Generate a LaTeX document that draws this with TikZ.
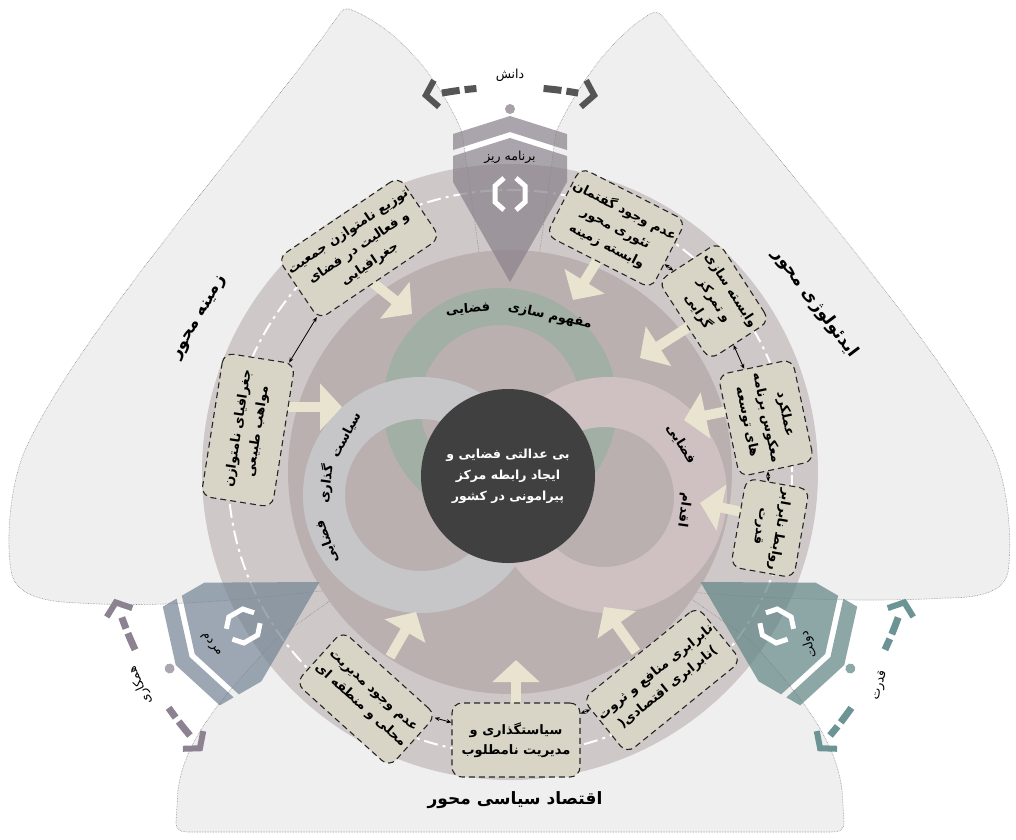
\documentclass[tikz,border=0pt]{standalone}
\usepackage{fontspec}
\newfontfamily\arabicfont[Script=Arabic]{DejaVu Sans}
\TeXXeTstate=1
\usetikzlibrary{arrows.meta}
\newcommand\fa[1]{\beginR #1\endR}

\definecolor{petalc}{RGB}{239,239,239}
\definecolor{ringc}{RGB}{207,200,200}
\definecolor{diskc}{RGB}{186,176,176}
\definecolor{greenc}{RGB}{161,175,165}
\definecolor{grayc}{RGB}{198,198,201}
\definecolor{pinkc}{RGB}{207,193,193}
\definecolor{corec}{RGB}{64,64,64}
\definecolor{boxc}{RGB}{216,213,198}
\definecolor{arrowc}{RGB}{232,228,207}
\definecolor{ptop}{RGB}{138,130,140}
\definecolor{pleft}{RGB}{118,134,150}
\definecolor{pright}{RGB}{98,134,134}
\definecolor{dtop}{RGB}{168,162,168}
\definecolor{dleft}{RGB}{170,166,178}
\definecolor{dright}{RGB}{140,168,168}
\definecolor{btop}{RGB}{85,85,85}
\definecolor{bleft}{RGB}{140,130,145}
\definecolor{bright}{RGB}{108,148,148}

\newcommand\pathTL{(510,472) -- (462,132) .. controls (440,80) and (400,30) .. (352,10) .. controls (346,7) and (341,10) .. (338,16) .. controls (250,140) and (80,330) .. (25,450) .. controls (8,490) and (6,550) .. (12,575) .. controls (18,596) and (45,602) .. (80,603) .. controls (160,608) and (240,600) .. (330,590) -- cycle}
\newcommand\pathTR{(510,472) -- (556,132) .. controls (580,80) and (615,35) .. (650,14) .. controls (655,11) and (660,12) .. (664,18) .. controls (760,140) and (930,330) .. (990,445) .. controls (1010,485) and (1012,545) .. (1008,572) .. controls (1004,592) and (980,598) .. (945,598) .. controls (880,602) and (780,600) .. (690,592) -- cycle}
\newcommand\pathBT{(510,472) -- (275,640) .. controls (230,690) and (185,735) .. (178,790) -- (176,822) .. controls (176,830) and (180,832) .. (190,832) -- (830,832) .. controls (840,832) and (844,830) .. (844,822) -- (842,790) .. controls (835,735) and (795,690) .. (750,640) -- cycle}

\begin{document}
\begin{tikzpicture}[x=1pt, y=-1pt,
    petal/.style={fill=petalc},
    petaledge/.style={draw=black!45, densely dotted, line width=0.6pt},
    sector/.style={draw=black!30, densely dotted, line width=0.5pt},
    causebox/.style={draw=black!85, dash pattern=on 6pt off 4pt, line width=1.1pt, rounded corners=10pt, fill=boxc, align=center, inner sep=2pt, font=\arabicfont\bfseries\fontsize{13}{19.5}\selectfont},
    link/.style={{Stealth[length=5pt,width=4pt]}-{Stealth[length=5pt,width=4pt]}, line width=0.8pt},
    blockarrow/.style={draw=arrowc, line width=10pt, -{Triangle[width=46pt,length=22pt]}},
    ringlab/.style={font=\arabicfont\bfseries\fontsize{13}{15}\selectfont, inner sep=1pt},
    corelab/.style={circle, fill=corec, minimum size=174pt, text=white, align=center, font=\arabicfont\bfseries\fontsize{12.5}{21}\selectfont},
    titlelab/.style={font=\arabicfont\bfseries\fontsize{17}{20}\selectfont},
    plabel/.style={font=\arabicfont\fontsize{12.5}{14}\selectfont, inner sep=1pt},
    blabel/.style={font=\arabicfont\fontsize{12.5}{14}\selectfont, inner sep=1pt},
    chev/.style={draw=white, line width=5pt},
    bracket/.style={line width=7pt, dash pattern=on 18pt off 5pt},
    bcap/.style={line width=6pt}]

\useasboundingbox (0,0) rectangle (1016,839);
\fill[white] (0,0) rectangle (1016,839);

\fill[petal] \pathTL;
\fill[petal] \pathTR;
\fill[petal] \pathBT;

\fill[ringc] (510,472) circle[radius=308pt];
\draw[petaledge] \pathTL;
\draw[petaledge] \pathTR;
\draw[petaledge] \pathBT;
\fill[diskc] (510,472) circle[radius=222pt];
\draw[white, line width=2pt, dash pattern=on 14pt off 5pt on 3pt off 5pt] (510,472) circle[radius=282pt];

\foreach \a in {80,100,200,220,320,340}
  \draw[sector] (508,476) -- ++(-\a:210);

% venn rings
\fill[greenc, even odd rule] (500,405) circle[radius=117pt] (500,405) circle[radius=80pt];
\fill[grayc, even odd rule] (421,495) circle[radius=118pt] (421,495) circle[radius=76pt];
\fill[pinkc, even odd rule] (609,495) circle[radius=118pt] (604,497) circle[radius=70pt];

\node[ringlab, rotate=-12] (g1) at (550,316) {\fa{مفهوم سازی}};
\node[ringlab, rotate=4] (g2) at (468,309) {\fa{فضایی}};
\node[ringlab, rotate=62] (s1) at (346,435) {\fa{سیاست}};
\node[ringlab, rotate=82] (s2) at (326,484) {\fa{گذاری}};
\node[ringlab, rotate=110] (s3) at (327,542) {\fa{فضایی}};
\node[ringlab, rotate=-58] (q1) at (681,444) {\fa{فضایی}};
\node[ringlab, rotate=-98] (q2) at (684,510) {\fa{اقدام}};

\node[corelab] (core) at (508,476) {\fa{بی عدالتی فضایی و}\\\fa{ایجاد رابطه مرکز}\\\fa{پیرامونی در کشور}};

% inward arrows
\foreach \i/\s/\e in {1/{372,282}/{412,314}, 2/{288,407}/{342,407}, 3/{602,253}/{573,300},
    4/{690,326}/{640,358}, 5/{732,410}/{684,420}, 6/{742,512}/{700,503},
    7/{636,652}/{604,607}, 8/{516,703}/{516,660}, 9/{390,657}/{416,612}} {
  \coordinate (as\i) at (\s);
  \coordinate (ae\i) at (\e);
  \draw[blockarrow] (as\i) -- (ae\i);
}

% factor boxes
\node[causebox, rotate=34, minimum width=136pt, minimum height=74pt] (b1) at (359,248) {\fa{توزیع نامتوازن جمعیت}\\\fa{و فعالیت در فضای}\\\fa{جغرافیایی}};
\node[causebox, rotate=81, minimum width=145pt, minimum height=72pt] (b2) at (248,430) {\fa{جغرافیای نامتوازن}\\\fa{مواهب طبیعی}};
\node[causebox, rotate=-27, minimum width=118pt, minimum height=76pt] (b3) at (616,228) {\fa{عدم وجود گفتمان}\\\fa{تئوری محور}\\\fa{وابسته زمینه}};
\node[causebox, rotate=-57, minimum width=94pt, minimum height=72pt] (b4) at (714,301) {\fa{وابسته سازی}\\\fa{و تمرکز}\\\fa{گرایی}};
\node[causebox, rotate=-78, minimum width=104pt, minimum height=76pt] (b5) at (766,418) {\fa{عملکرد}\\\fa{معکوس برنامه}\\\fa{های توسعه}};
\node[causebox, rotate=-100, minimum width=90pt, minimum height=64pt] (b6) at (770,528) {\fa{روابط نابرابر}\\\fa{قدرت}};
\node[causebox, rotate=39, minimum width=140pt, minimum height=70pt] (b7) at (662,680) {\fa{نابرابری منافع و ثروت}\\(\fa{نابرابری اقتصادی})};
\node[causebox, minimum width=128pt, minimum height=74pt] (b8) at (516,740) {\fa{سیاستگذاری و}\\\fa{مدیریت نامطلوب}};
\node[causebox, rotate=-42, minimum width=126pt, minimum height=70pt] (b9) at (366,699) {\fa{عدم وجود مدیریت}\\\fa{محلی و منطقه ای}};

\draw[link] (b1) -- (b2);
\draw[link] (b3) -- (b4);
\draw[link] (b4) -- (b5);
\draw[link] (b5) -- (b6);
\draw[link] (b7) -- (b8);
\draw[link] (b8) -- (b9);

% actors
\foreach \ang/\dr/\pc/\dc/\plab/\prot/\bc/\blab/\brot in
   {90/0/ptop/dtop/{برنامه ریز}/0/btop/{دانش}/0,
    210/30/pleft/dleft/{مردم}/-50/bleft/{همکاری}/115,
    330/30/pright/dright/{دولت}/110/bright/{قدرت}/75} {
  \begin{scope}[shift={(510,472)}, rotate=\ang-90, shift={(0,-\dr)}]
    \fill[\pc, opacity=.72] (-57,-316) -- (0,-334) -- (57,-316) -- (57,-290) -- (0,-190) -- (-57,-290) -- cycle;
    \fill[\pc, opacity=.72] (-57,-322) -- (0,-340) -- (57,-322) -- (57,-338) -- (0,-356) -- (-57,-338) -- cycle;
    \draw[chev] (-6,-294) -- (-15,-286) -- (-15,-270) -- (-6,-262);
    \draw[chev] (6,-294) -- (15,-286) -- (15,-270) -- (6,-262);
    \fill[\dc] (0,-363) circle[radius=5pt];
    \node[plabel, rotate=\prot] (p\ang) at (0,-315) {\fa{\plab}};
    \draw[bracket, \bc] (259.8:385) arc[start angle=259.8, end angle=265.0, radius=385];
    \draw[bracket, \bc] (275.0:385) arc[start angle=275.0, end angle=280.2, radius=385];
    \draw[bcap, \bc] (259:399) -- (257.4:386) -- (259:372);
    \draw[bcap, \bc] (281:399) -- (282.6:386) -- (281:372);
    \node[blabel, rotate=\brot] (k\ang) at (0,-397) {\fa{\blab}};
  \end{scope}
}

\node[titlelab, rotate=60] (tl) at (200,318) {\fa{زمینه محور}};
\node[titlelab, rotate=-53] (tr) at (815,303) {\fa{ایدئولوژی محور}};
\node[titlelab] (tb) at (515,800) {\fa{اقتصاد سیاسی محور}};

\end{tikzpicture}
\end{document}
